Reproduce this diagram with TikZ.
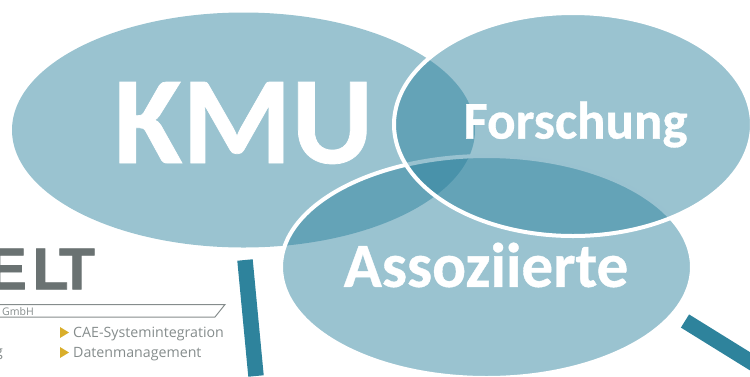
\documentclass[tikz,border=0pt]{standalone}
\usepackage{fontspec}
\setmainfont{Carlito}[BoldFeatures={FakeBold=0.6}]
\newfontfamily\logofont{Open Sans}
\newfontfamily\logobold{Liberation Sans}[BoldFeatures={FakeBold=1.2}]
\usetikzlibrary{shapes.geometric}
\definecolor{tealbar}{HTML}{2E839C}
\definecolor{tealfill}{RGB}{42,128,156}
\definecolor{logogray}{HTML}{6A7272}
\definecolor{logotext}{HTML}{858C8C}
\definecolor{logoyellow}{HTML}{D9AE2B}
\tikzset{
  bubble/.style={ellipse,inner sep=0pt,outer sep=0pt,fill=tealfill,fill opacity=0.475},
  ringed/.style={draw=white,line width=4pt,draw opacity=1},
  bubbletext/.style={inner sep=0pt,text=white},
  logoline/.style={font=\logofont\fontsize{14.2}{15}\selectfont,text=logotext,inner sep=0pt,anchor=west},
  logoletter/.style={font=\logobold\bfseries\fontsize{59}{60}\selectfont,text=logogray,inner sep=0pt}
}
\begin{document}
\begin{tikzpicture}[x=1pt,y=-1pt]
  \useasboundingbox (0,0) rectangle (750,376);
  \clip (0,0) rectangle (750,376);
  % draw bars
  \coordinate (barleftA) at (245,260);
  \coordinate (barleftB) at (256,376);
  \coordinate (barrightA) at (685,321);
  \coordinate (barrightB) at (756,365);
  \draw[tealbar,line width=15.5pt] (barleftA) -- (barleftB);
  \draw[tealbar,line width=15.5pt] (barrightA) -- (barrightB);
  % draw logo
  \node[logoletter,anchor=east] (logoE) at (27,269) {E};
  \node[logoletter] (logoL) at (50.5,269) {L};
  \node[logoletter] (logoT) at (77,269) {T};
  \draw[logotext,line width=1pt] (0,304.5) -- (225,304.5) -- (215,317) -- (0,317);
  \node[logoline,font=\logofont\fontsize{10.5}{11}\selectfont] (logoGmbH) at (2,312) {GmbH};
  \fill[logoyellow] (60,327) -- (69,332.5) -- (60,338) -- cycle;
  \fill[logoyellow] (60,347) -- (69,352.5) -- (60,358) -- cycle;
  \node[logoline] (logoCAE) at (73,334) {CAE-Systemintegration};
  \node[logoline] (logoDaten) at (73,354) {Datenmanagement};
  \node[logoline,anchor=east] (logoG) at (3,354) {g};
  % draw ellipses
  \node[bubble,minimum width=463pt,minimum height=235pt] (kmu) at (243.5,130) {};
  \node[bubble,ringed,minimum width=411pt,minimum height=222pt] (assoz) at (486.5,267) {};
  \node[bubble,ringed,minimum width=358pt,minimum height=223pt] (forsch) at (573,124.5) {};
  % draw labels
  \node[bubbletext,font=\bfseries\fontsize{125}{125}\selectfont] (kmutext) at (243.5,123) {KMU};
  \node[bubbletext,font=\bfseries\fontsize{63}{63}\selectfont] (assoztext) at (486,265) {Assoziierte};
  \node[bubbletext,font=\bfseries\fontsize{53}{53}\selectfont] (forschtext) at (575.5,124.5) {Forschung};
\end{tikzpicture}
\end{document}
